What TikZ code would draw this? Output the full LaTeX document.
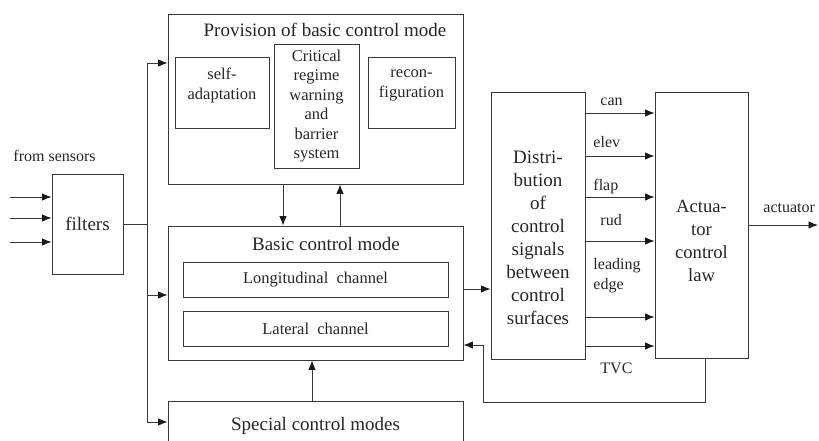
\documentclass[tikz,border=0pt]{standalone}
\usepackage{fontspec}
\setmainfont{Liberation Serif}
\usetikzlibrary{arrows.meta,positioning}

\begin{document}
\begin{tikzpicture}[x=1pt,y=-1pt,line width=0.9pt,color=black!78,
    >={Latex[length=9.5pt,width=7.5pt,color=black!90]},
    every node/.style={text=black!85},
    block/.style={draw=black!78,rectangle,inner sep=0pt,align=center},
    txt/.style={font=\fontsize{16.5}{19.5}\selectfont,align=center,inner sep=0pt},
    big/.style={font=\fontsize{19}{23}\selectfont,align=center,inner sep=0pt},
    lab/.style={font=\fontsize{16}{20}\selectfont,inner sep=0pt,anchor=base west}]
    \useasboundingbox (0,0) rectangle (819,441);
    \clip (0,0) rectangle (819,441);
    % inputs and filters
    \node[block,big,minimum width=71,minimum height=100] (filters) at (87.5,224) {filters};
    \node[lab] (sensors) at (13,161) {from sensors};
    % provision of basic control mode
    \node[block,minimum width=295,minimum height=170] (prov) at (315.5,99) {};
    \node[big,anchor=base] (provtitle) at (325,37) {Provision of basic control mode};
    \node[block,minimum width=94,minimum height=71,
          label={[txt,anchor=north,yshift=-11]north:self-\\adaptation}] (selfad) at (222,92.5) {};
    \node[block,txt,minimum width=85,minimum height=124] (crit) at (316.5,106)
        {Critical\\regime\\warning\\and\\barrier\\system};
    \node[block,minimum width=87,minimum height=71,
          label={[txt,anchor=north,yshift=-13]north:recon-\\figuration}] (recon) at (411.5,92.5) {};
    % basic and special modes
    \node[block,minimum width=295,minimum height=134] (basic) at (315.5,293) {};
    \node[big,anchor=base] (basictitle) at (326,250) {Basic control mode};
    \node[block,txt,minimum width=265,minimum height=35] (longit) at (315.5,279.5) {Longitudinal\ \ channel};
    \node[block,txt,minimum width=265,minimum height=35] (lateral) at (315.5,328.5) {Lateral\ \ channel};
    \node[block,big,minimum width=295,minimum height=50] (special) at (315.5,426) {Special control modes};
    % distribution and actuator law
    \node[block,minimum width=94,minimum height=267,
          label={[big,yshift=-12.5]center:Distri-\\bution\\of\\control\\signals\\between\\control\\surfaces}] (dist) at (538,225.5) {};
    \node[block,minimum width=93,minimum height=266,
          label={[font=\fontsize{18.6}{22.7}\selectfont,align=center,inner sep=0pt,yshift=-16]center:Actua-\\tor\\control\\law}] (act) at (701.5,225) {};

    \foreach \y [count=\i] in {197,218,242}
      \coordinate (in\i) at (10,\y);
    \foreach \i in {1,2,3}
      \draw[->] (in\i) -- (in\i -| filters.west);
    \coordinate (bus) at (147,224);
    \draw (filters.east) -- (bus);
    \draw[->] (bus) |- ([yshift=36]prov.west);
    \draw[->] (bus) |- ([yshift=-2]basic.west);
    \draw[->] (bus) |- ([yshift=4]special.west);
    \draw[->] ([xshift=-32.5]prov.south) -- ([xshift=-32.5]basic.north);
    \draw[->] ([xshift=24.5]basic.north) -- ([xshift=24.5]prov.south);
    \draw[->] ([xshift=-3.5]special.north) -- ([xshift=-3.5]basic.south);
    \draw[->] ([yshift=4]basic.east) -- ([yshift=4]basic.east -| dist.west);
    \foreach \y in {113,156,197,241,317,346}
      \draw[->] (dist.east |- 0,\y) -- (act.west |- 0,\y);
    \node[lab] (can) at (600,106) {can};
    \node[lab] (elev) at (593,148) {elev};
    \node[lab] (flap) at (593,190) {flap};
    \node[lab] (rud) at (600,225) {rud};
    \node[lab,anchor=north west,align=left] (leading) at (593,258) {leading\\edge};
    \node[lab] (tvc) at (600,373) {TVC};
    % output and feedback
    \coordinate (out) at (818,225);
    \draw[->] (act.east) -- (out);
    \node[lab] (actlab) at (763,212) {actuator};
    \coordinate (fb) at (483,402);
    \draw[->] ([xshift=3.5]act.south) |- (fb) |- ([yshift=-52]basic.east);
\end{tikzpicture}
\end{document}
